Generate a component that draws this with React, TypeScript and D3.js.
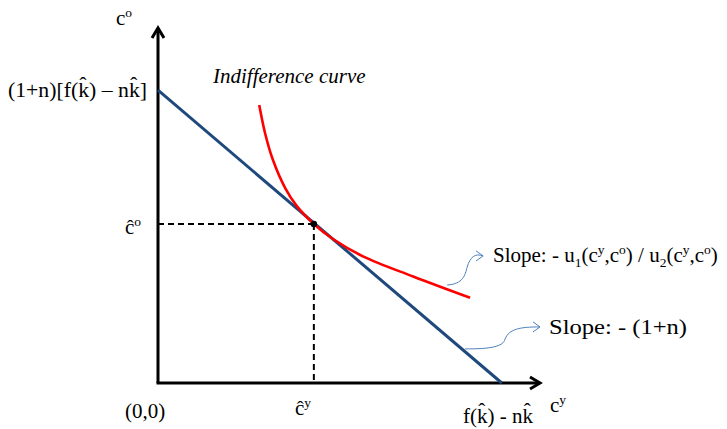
import React from 'react';
import * as d3 from 'd3';

// budget line (intercepts) and indifference curve, in chart units
const budgetX = [0, 9.0];
const budgetY = [8.25, 0];
const icX = [2.65, 2.8, 3.0, 3.33, 3.63, 4.08, 4.59, 5.38, 6.68, 8.17];
const icY = [7.83, 7.05, 6.31, 5.49, 4.99, 4.48, 4.05, 3.56, 3.0, 2.4];
const tangent = [4.08, 4.48];
// where the two callout arrows start and end
const calloutStart = [[7.57, 2.76], [8.04, 0.96]];
const calloutEnd = [[8.51, 3.58], [10.0, 1.58]];

const W = 727, H = 429;
const serif = '"Liberation Serif", "Times New Roman", serif';
const navy = '#1F497D';
const callColor = '#4F81BD';

export default function App() {
  const x = d3.scaleLinear().domain([0, 10]).range([158, 540]);
  const y = d3.scaleLinear().domain([0, 10]).range([383, 28]);

  const budget = d3.line<number>().x(d => x(budgetX[d])).y(d => y(budgetY[d]))([0, 1]);
  const ic = d3.line<number>()
    .x(i => x(icX[i])).y(i => y(icY[i]))
    .curve(d3.curveCatmullRom.alpha(0.5))(d3.range(icX.length));

  const tx = x(tangent[0]), ty = y(tangent[1]);

  // callout connectors (little s-shaped curves with open arrow heads)
  const callout = (k: number, up: boolean) => {
    const [sx, sy] = [x(calloutStart[k][0]), y(calloutStart[k][1])];
    const [ex, ey] = [x(calloutEnd[k][0]), y(calloutEnd[k][1])];
    const p = d3.path();
    p.moveTo(sx, sy);
    if (up) {
      p.bezierCurveTo(sx + 16, sy - 1, sx + 18, sy - 10, sx + 20, sy - 18);
      p.bezierCurveTo(sx + 23, sy - 28, ex - 8, ey - 3, ex, ey);
    } else {
      p.bezierCurveTo(sx + 25, sy, sx + 38, sy - 2, sx + 40, sy - 10);
      p.bezierCurveTo(sx + 44, sy - 20, ex - 20, ey, ex, ey);
    }
    return { d: p.toString(), ex, ey };
  };
  const c1 = callout(0, true);
  const c2 = callout(1, false);

  const sup = { fontSize: 13.5 } as const;

  return (
    <div style={{ position: 'absolute', left: 0, top: 0 }}>
      <svg width={W} height={H} style={{ display: 'block', background: '#fff' }} fontFamily={serif} fontSize={21}>
        {/* axes */}
        <line x1={x(0)} y1={y(0)} x2={x(0)} y2={y(10)} stroke="#000" strokeWidth={3} />
        <line x1={x(0) - 1.5} y1={y(0)} x2={x(10)} y2={y(0)} stroke="#000" strokeWidth={3} />
        <path d={`M${x(0) - 6},${y(10) + 10}L${x(0)},${y(10)}L${x(0) + 6},${y(10) + 10}`} fill="none" stroke="#000" strokeWidth={3} />
        <path d={`M${x(10) - 10},${y(0) - 6}L${x(10)},${y(0)}L${x(10) - 10},${y(0) + 6}`} fill="none" stroke="#000" strokeWidth={3} />

        {/* dashed guides */}
        <line x1={x(0)} y1={ty} x2={tx} y2={ty} stroke="#000" strokeWidth={2} strokeDasharray="6,4" />
        <line x1={tx} y1={ty} x2={tx} y2={y(0)} stroke="#000" strokeWidth={2} strokeDasharray="6,4" />

        {/* budget line and indifference curve */}
        <path d={budget ?? ''} stroke={navy} strokeWidth={3} fill="none" />
        <path d={ic ?? ''} stroke="#FF0000" strokeWidth={2.6} fill="none" />
        <circle cx={tx} cy={ty} r={3.2} fill="#000" />

        {/* callouts */}
        {[c1, c2].map((c, i) => (
          <g key={i} stroke={callColor} strokeWidth={1} fill="none">
            <path d={c.d} />
            <path d={`M${c.ex - 7},${c.ey - 5}L${c.ex},${c.ey}L${c.ex - 7},${c.ey + 5}`} />
          </g>
        ))}

        {/* labels */}
        <text x={116} y={25}>c<tspan style={sup} dy={-8}>o</tspan></text>
        <text x={8} y={97} textLength={139} lengthAdjust="spacingAndGlyphs">(1+n)[f(k&#770;) – nk&#770;]</text>
        <text x={213} y={83} fontStyle="italic">Indifference curve</text>
        <text x={125} y={234}>&#265;<tspan style={sup} dy={-8}>o</tspan></text>
        <text x={125} y={418}>(0,0)</text>
        <text x={295} y={415}>&#265;<tspan style={sup} dy={-8}>y</tspan></text>
        <text x={463} y={423}>f(k&#770;) - nk&#770;</text>
        <text x={550} y={412}>c<tspan style={sup} dy={-8}>y</tspan></text>
        <text x={493} y={262}>
          Slope: - u<tspan style={sup} dy={5}>1</tspan>
          <tspan dy={-5}>(c</tspan><tspan style={sup} dy={-8}>y</tspan>
          <tspan dy={8}>,c</tspan><tspan style={sup} dy={-8}>o</tspan>
          <tspan dy={8}>) / u</tspan><tspan style={sup} dy={5}>2</tspan>
          <tspan dy={-5}>(c</tspan><tspan style={sup} dy={-8}>y</tspan>
          <tspan dy={8}>,c</tspan><tspan style={sup} dy={-8}>o</tspan>
          <tspan dy={8}>)</tspan>
        </text>
        <text x={549} y={334} textLength={138} lengthAdjust="spacingAndGlyphs">Slope: - (1+n)</text>
      </svg>
    </div>
  );
}
